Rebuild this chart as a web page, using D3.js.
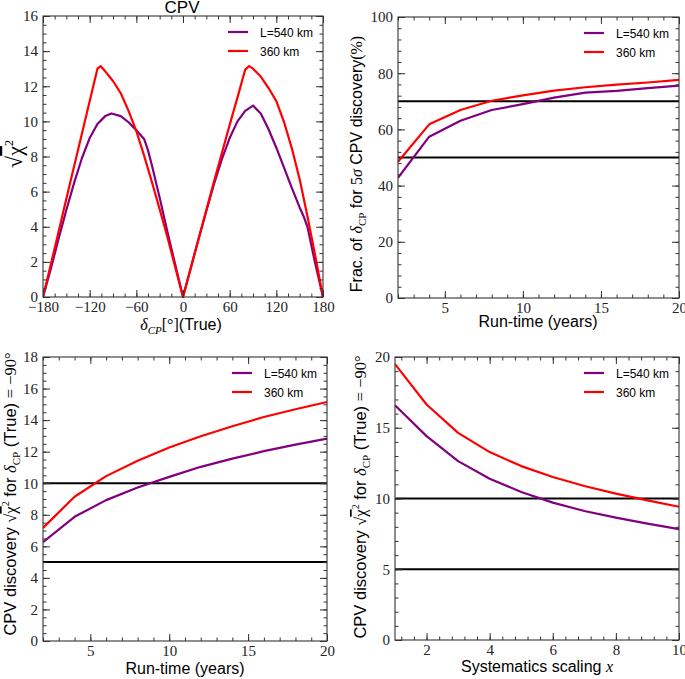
<!DOCTYPE html>
<html><head><meta charset="utf-8">
<script src="https://cdn.jsdelivr.net/npm/d3@7/dist/d3.min.js"></script>
<style>
body{margin:0;background:#fff;}
svg{display:block;}
.lab{font-family:"Liberation Sans",Arial,sans-serif;font-size:16px;fill:#000;}
.leg{font-family:"Liberation Sans",Arial,sans-serif;font-size:12px;fill:#000;}
</style></head>
<body>
<svg id="c" width="685" height="679"></svg>
<script>
// ---------- DATA ----------
const seriesNames = ["L=540 km", "360 km"];
const seriesColors = ["#800080", "#ff0000"];

// Panel 1: sqrt(chi2) vs delta_CP (true)
const cpvDeltaPurple = [-180,-170,-160,-150,-140,-130,-120,-110,-100,-92,-80,-70,-60,-50,-45,-40,-30,-20,-10,0,
  10,20,30,40,50,60,70,80,90,100,110,120,130,140,150,155,160,170,180];
const cpvPurple = [0,1.6,3.3,4.95,6.5,7.9,9.05,9.85,10.3,10.45,10.3,9.95,9.5,9.0,8.35,7.5,5.65,3.7,1.85,0,
  1.65,3.3,4.9,6.45,7.85,9.05,10.0,10.6,10.9,10.45,9.55,8.5,7.35,6.2,5.1,4.6,4.0,1.9,0];
const cpvDeltaRed = [-180,-170,-160,-150,-140,-130,-120,-110,-106,-100,-90,-80,-70,-60,-50,-40,-30,-20,-10,0,
  10,20,30,40,50,60,70,80,85,90,100,110,120,130,140,150,160,170,180];
const cpvRed = [0,1.85,3.7,5.6,7.45,9.3,11.15,13.0,13.15,12.85,12.3,11.6,10.6,9.45,8.05,6.55,5.0,3.4,1.7,0,
  1.65,3.3,4.95,6.6,8.2,9.8,11.35,12.95,13.15,13.0,12.55,11.9,11.15,9.95,8.45,6.7,4.6,2.35,0];

// Panel 2: fraction of delta_CP for 5 sigma discovery vs run-time
const runTime = [2,4,6,8,10,12,14,16,18,20];
const fracPurple = [42.8,57.4,63.1,66.9,69.0,71.3,73.1,73.7,74.7,75.6];
const fracRed = [48.5,61.8,66.9,70.2,72.1,73.8,75.0,75.9,76.7,77.6];
const fracRefLines = [70,50];

// Panel 3: sqrt(chi2) at delta=-90 vs run-time
const sigPurple = [6.27,7.87,8.93,9.73,10.4,11.04,11.56,12.03,12.45,12.83];
const sigRed = [7.17,9.14,10.45,11.42,12.26,12.98,13.61,14.2,14.69,15.15];
const sigRefLines = [10,5];

// Panel 4: sqrt(chi2) at delta=-90 vs systematics scaling
const sysScale = [1,2,3,4,5,6,7,8,9,10];
const sysPurple = [16.59,14.41,12.64,11.4,10.46,9.71,9.12,8.65,8.23,7.83];
const sysRed = [19.5,16.64,14.64,13.28,12.29,11.52,10.88,10.34,9.87,9.42];
const sysRefLines = [10,5];

// tick labels
const p1XTicks = [-180,-120,-60,0,60,120,180];
const p1YTicks = [0,2,4,6,8,10,12,14,16];
const p2XTicks = [5,10,15,20];
const p2YTicks = [0,20,40,60,80,100];
const p3YTicks = [0,2,4,6,8,10,12,14,16,18];
const p4XTicks = [2,4,6,8,10];
const p4YTicks = [0,5,10,15,20];

// ---------- DRAW ----------
const svg = d3.select("#c");
const serif = '"Liberation Serif","DejaVu Serif",serif';
const fmt = d => (d < 0 ? "\u2212" + Math.abs(d) : String(d));

function minorTicks(dom, step) {
  const out = [];
  const s = Math.ceil(dom[0] / step - 1e-9);
  for (let k = s; k * step <= dom[1] + 1e-9; k++) out.push(+(k * step).toFixed(6));
  return out;
}

function panel(cfg) {
  const {box, xDom, yDom, xTicks, yTicks, xMinor, yMinor, series, refLines} = cfg;
  const [L, T, R, B] = box;
  const x = d3.scaleLinear().domain(xDom).range([L, R]);
  const y = d3.scaleLinear().domain(yDom).range([B, T]);
  const g = svg.append("g");
  const clipId = "clip" + Math.round(L) + "_" + Math.round(T);
  svg.append("clipPath").attr("id", clipId).append("rect")
    .attr("x", L).attr("y", T - 2).attr("width", R - L + 1).attr("height", B - T + 4);

  const plot = g.append("g").attr("clip-path", `url(#${clipId})`);
  (refLines || []).forEach(v => {
    plot.append("line").attr("x1", L).attr("x2", R).attr("y1", y(v)).attr("y2", y(v))
      .attr("stroke", "#000").attr("stroke-width", 2);
  });
  const line = d3.line().x(d => x(d[0])).y(d => y(d[1]));
  series.forEach(s => {
    plot.append("path").datum(s.xs.map((v, i) => [v, s.ys[i]]))
      .attr("d", line).attr("fill", "none").attr("stroke", s.color)
      .attr("stroke-width", 2.2).attr("stroke-linejoin", "round");
  });

  const mk = (axisFn, scale, ticks, size, labels, tx, ty, pad) => {
    const a = axisFn(scale).tickValues(ticks).tickSizeInner(-size).tickSizeOuter(0).tickPadding(pad || 5);
    if (!labels) a.tickFormat("");
    else a.tickFormat(fmt);
    const ag = g.append("g").attr("transform", `translate(${tx},${ty})`).call(a);
    ag.select(".domain").remove();
    ag.attr("font-family", null).attr("font-size", null);
    ag.selectAll(".tick line").attr("stroke", "#333").attr("stroke-width", 1);
    ag.selectAll(".tick text").style("font-family", serif).style("font-size", "15px").attr("fill", "#222");
    return ag;
  };
  const xMin = minorTicks(xDom, xMinor), yMin = minorTicks(yDom, yMinor);
  mk(d3.axisBottom, x, xMin, 3.5, false, 0, B);
  mk(d3.axisTop, x, xMin, 3.5, false, 0, T);
  mk(d3.axisLeft, y, yMin, 3.5, false, L, 0);
  mk(d3.axisRight, y, yMin, 3.5, false, R, 0);
  mk(d3.axisBottom, x, xTicks, 7, true, 0, B, 4);
  mk(d3.axisTop, x, xTicks, 7, false, 0, T);
  mk(d3.axisLeft, y, yTicks, 7, true, L, 0, 5);
  mk(d3.axisRight, y, yTicks, 7, false, R, 0);

  g.append("rect").attr("x", L).attr("y", T).attr("width", R - L).attr("height", B - T)
    .attr("fill", "none").attr("stroke", "#333").attr("stroke-width", 1.1);

  series.forEach((s, i) => {
    const ly0 = T + 16 + i * 19;
    g.append("line").attr("x1", R - 95).attr("x2", R - 75).attr("y1", ly0).attr("y2", ly0)
      .attr("stroke", s.color).attr("stroke-width", 2.2);
    g.append("text").attr("class", "leg").attr("x", R - 63).attr("y", ly0 + 4.5).text(s.name);
  });
  return {x, y, g};
}

function ser(xs, ysP, ysR, xsR) {
  return [
    {name: seriesNames[0], color: seriesColors[0], xs: xs, ys: ysP},
    {name: seriesNames[1], color: seriesColors[1], xs: xsR || xs, ys: ysR}
  ];
}

panel({box: [43, 16, 323, 297], xDom: [-180, 180], yDom: [0, 16],
  xTicks: p1XTicks, yTicks: p1YTicks, xMinor: 15, yMinor: 0.5,
  series: ser(cpvDeltaPurple, cpvPurple, cpvRed, cpvDeltaRed)});
panel({box: [398, 17, 679, 298], xDom: [2, 20], yDom: [0, 100],
  xTicks: p2XTicks, yTicks: p2YTicks, xMinor: 1, yMinor: 4,
  series: ser(runTime, fracPurple, fracRed), refLines: fracRefLines});
panel({box: [43, 357, 327, 641], xDom: [2, 20], yDom: [0, 18],
  xTicks: p2XTicks, yTicks: p3YTicks, xMinor: 1, yMinor: 0.5,
  series: ser(runTime, sigPurple, sigRed), refLines: sigRefLines});
panel({box: [395, 357, 679, 640], xDom: [1, 10], yDom: [0, 20],
  xTicks: p4XTicks, yTicks: p4YTicks, xMinor: 0.4, yMinor: 1,
  series: ser(sysScale, sysPurple, sysRed), refLines: sysRefLines});

// ---------- TEXT LABELS ----------
svg.append("text").attr("class", "lab").attr("x", 182).attr("y", 13)
  .attr("text-anchor", "middle").style("font-size", "17px").text("CPV");

{
  const t = svg.append("text").attr("class", "lab").attr("x", 181).attr("y", 330).attr("text-anchor", "middle");
  t.append("tspan").style("font-family", serif).style("font-style", "italic").text("δ");
  t.append("tspan").style("font-family", serif).style("font-style", "italic").style("font-size", "11px")
    .attr("dy", 4).text("CP");
  t.append("tspan").style("font-family", serif).attr("dy", -4).text("[°]");
  t.append("tspan").text("(True)");
}
{
  const t = svg.append("text").attr("class", "lab").attr("transform", "translate(22,154) rotate(-90)")
    .attr("text-anchor", "middle").style("font-family", serif).style("font-size", "22px");
  t.append("tspan").text("√");
  t.append("tspan").style("text-decoration", "overline").text("χ");
  t.append("tspan").style("font-size", "12px").attr("dy", -9).text("2");
}
svg.append("text").attr("class", "lab").attr("x", 538).attr("y", 327).attr("text-anchor", "middle").text("Run-time (years)");
{
  const t = svg.append("text").attr("class", "lab").attr("transform", "translate(362,164) rotate(-90)")
    .attr("text-anchor", "middle");
  t.append("tspan").text("Frac. of ");
  t.append("tspan").style("font-family", serif).style("font-style", "italic").text("δ");
  t.append("tspan").style("font-family", serif).style("font-size", "11px").attr("dy", 4).text("CP");
  t.append("tspan").attr("dy", -4).text(" for ");
  t.append("tspan").style("font-family", serif).text("5");
  t.append("tspan").style("font-family", serif).style("font-style", "italic").text("σ");
  t.append("tspan").text(" CPV discovery");
  t.append("tspan").style("font-family", serif).text("(%)");
}
svg.append("text").attr("class", "lab").attr("x", 185).attr("y", 674).attr("text-anchor", "middle").text("Run-time (years)");
{
  const t = svg.append("text").attr("class", "lab").attr("x", 537).attr("y", 672).attr("text-anchor", "middle");
  t.append("tspan").text("Systematics scaling ");
  t.append("tspan").style("font-family", serif).style("font-style", "italic").text("x");
}
function sigLabel(cx, cy) {
  const t = svg.append("text").attr("class", "lab").attr("transform", `translate(${cx},${cy}) rotate(-90)`)
    .attr("text-anchor", "middle").style("font-size", "16.5px");
  t.append("tspan").text("CPV discovery ");
  t.append("tspan").style("font-family", serif).text("√");
  t.append("tspan").style("font-family", serif).style("text-decoration", "overline").text("χ");
  t.append("tspan").style("font-family", serif).style("font-size", "10px").attr("dy", -7).text("2");
  t.append("tspan").attr("dy", 7).text(" for ");
  t.append("tspan").style("font-family", serif).style("font-style", "italic").text("δ");
  t.append("tspan").style("font-family", serif).style("font-size", "11px").attr("dy", 4).text("CP");
  t.append("tspan").attr("dy", -4).text(" (True) ");
  t.append("tspan").style("font-family", serif).text("= −90°");
}
sigLabel(16, 494);
sigLabel(366, 497);
</script>
</body></html>
